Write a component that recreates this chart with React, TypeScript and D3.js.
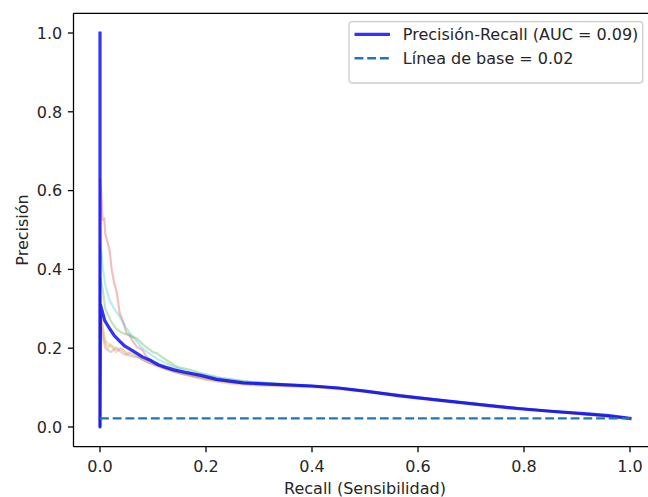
import React from "react";
import * as d3 from "d3";

const W = 648;
const H = 497;

// Mean precision-recall curve
const recallMain = [0, 0, 0.001, 0.003, 0.009, 0.018, 0.027, 0.037, 0.047, 0.062, 0.08, 0.097, 0.11, 0.123, 0.14, 0.16, 0.19, 0.22, 0.27, 0.33, 0.4, 0.45, 0.5, 0.566, 0.6, 0.66, 0.72, 0.786, 0.85, 0.913, 0.96, 1.0];
const precisionMain = [1.0, 0.0, 0.31, 0.3, 0.27, 0.25, 0.232, 0.218, 0.205, 0.193, 0.178, 0.168, 0.158, 0.152, 0.145, 0.139, 0.131, 0.121, 0.112, 0.108, 0.104, 0.099, 0.091, 0.079, 0.074, 0.065, 0.056, 0.047, 0.04, 0.034, 0.029, 0.022];

// Per-fold curves (faint)
const foldRecall1 = [0, 0, 0.002, 0.005, 0.008, 0.01, 0.014, 0.018, 0.022, 0.027, 0.032, 0.037, 0.043, 0.05, 0.055, 0.06, 0.069, 0.08, 0.09, 0.1, 0.12, 0.15, 0.2, 0.25, 0.3, 0.4, 0.5, 0.6, 0.7, 0.8, 0.9, 1.0];
const foldPrecision1 = [0, 0.63, 0.6, 0.525, 0.53, 0.49, 0.47, 0.45, 0.4, 0.365, 0.34, 0.29, 0.27, 0.238, 0.235, 0.222, 0.204, 0.195, 0.175, 0.162, 0.15, 0.138, 0.125, 0.114, 0.109, 0.104, 0.091, 0.074, 0.06, 0.046, 0.034, 0.022];
const foldRecall2 = [0, 0, 0.003, 0.005, 0.01, 0.018, 0.027, 0.037, 0.05, 0.062, 0.08, 0.1, 0.112, 0.14, 0.175, 0.22, 0.27, 0.33, 0.4, 0.5, 0.6, 0.7, 0.8, 0.9, 1.0];
const foldPrecision2 = [0, 0.46, 0.44, 0.407, 0.36, 0.322, 0.3, 0.28, 0.25, 0.229, 0.2, 0.18, 0.17, 0.152, 0.137, 0.125, 0.116, 0.11, 0.105, 0.092, 0.075, 0.061, 0.047, 0.035, 0.022];
const foldRecall3 = [0, 0, 0.005, 0.01, 0.02, 0.03, 0.04, 0.055, 0.069, 0.085, 0.1, 0.107, 0.125, 0.145, 0.17, 0.19, 0.23, 0.28, 0.35, 0.45, 0.55, 0.65, 0.75, 0.85, 0.95, 1.0];
const foldPrecision3 = [0, 0.38, 0.35, 0.3, 0.27, 0.25, 0.24, 0.232, 0.225, 0.205, 0.19, 0.187, 0.17, 0.153, 0.145, 0.137, 0.124, 0.115, 0.108, 0.1, 0.083, 0.067, 0.053, 0.041, 0.029, 0.022];
const foldRecall4 = [0, 0, 0.003, 0.008, 0.015, 0.02, 0.03, 0.04, 0.05, 0.06, 0.08, 0.1, 0.13, 0.17, 0.2, 0.25, 0.3, 0.4, 0.5, 0.6, 0.7, 0.8, 0.9, 1.0];
const foldPrecision4 = [0, 0.33, 0.28, 0.22, 0.2, 0.21, 0.19, 0.2, 0.185, 0.19, 0.172, 0.16, 0.145, 0.13, 0.12, 0.111, 0.106, 0.102, 0.09, 0.073, 0.059, 0.046, 0.033, 0.022];
const foldRecall5 = [0, 0, 0.004, 0.01, 0.02, 0.03, 0.045, 0.06, 0.075, 0.09, 0.11, 0.14, 0.18, 0.22, 0.28, 0.35, 0.45, 0.55, 0.65, 0.75, 0.85, 0.95, 1.0];
const foldPrecision5 = [0, 0.27, 0.24, 0.2, 0.19, 0.2, 0.185, 0.18, 0.175, 0.165, 0.155, 0.14, 0.128, 0.118, 0.11, 0.106, 0.099, 0.084, 0.067, 0.053, 0.04, 0.029, 0.022];
const foldRecall6 = [0, 0, 0.004, 0.01, 0.02, 0.035, 0.05, 0.07, 0.09, 0.12, 0.16, 0.2, 0.25, 0.3, 0.38, 0.45, 0.55, 0.65, 0.75, 0.85, 0.95, 1.0];
const foldPrecision6 = [0, 0.3, 0.26, 0.22, 0.205, 0.2, 0.19, 0.178, 0.163, 0.147, 0.132, 0.12, 0.109, 0.105, 0.102, 0.098, 0.082, 0.066, 0.052, 0.039, 0.028, 0.022];

const foldColors = ["#d62728", "#17becf", "#2ca02c", "#ff7f0e", "#9467bd", "#bcbd22"];
const folds = [
  [foldRecall1, foldPrecision1],
  [foldRecall2, foldPrecision2],
  [foldRecall3, foldPrecision3],
  [foldRecall4, foldPrecision4],
  [foldRecall5, foldPrecision5],
  [foldRecall6, foldPrecision6],
];

const baselineValue = 0.022;
const xTicks = [0, 0.2, 0.4, 0.6, 0.8, 1.0];
const yTicks = [0, 0.2, 0.4, 0.6, 0.8, 1.0];
const legendLabels = ["Precisión-Recall (AUC = 0.09)", "Línea de base = 0.02"];
const xLabel = "Recall (Sensibilidad)";
const yLabel = "Precisión";

export default function App() {
  const left = 73.5, right = 656.5, top = 13.3, bottom = 446.7;
  const x = d3.scaleLinear().domain([-0.05, 1.05]).range([left, right]);
  const y = d3.scaleLinear().domain([-0.05, 1.05]).range([bottom, top]);
  const line = d3
    .line<[number, number]>()
    .x((d) => x(d[0]))
    .y((d) => y(d[1]));
  const zip = (a: number[], b: number[]) => a.map((v, i) => [v, b[i]] as [number, number]);
  const font = "DejaVu Sans, sans-serif";
  const fs = 16;
  const tickLen = 5.6;
  const textColor = "#262626";

  return (
    <svg
      width={W}
      height={H}
      style={{ position: "absolute", left: 0, top: 0, display: "block", background: "#fff" }}
      fontFamily={font}
    >
      <defs>
        <clipPath id="plotclip">
          <rect x={left} y={top} width={right - left} height={bottom - top} />
        </clipPath>
      </defs>
      <g clipPath="url(#plotclip)">
        {folds.map((f, i) => (
          <path
            key={i}
            d={line(zip(f[0], f[1])) || ""}
            fill="none"
            stroke={foldColors[i]}
            strokeOpacity={0.3}
            strokeWidth={2.2}
            strokeLinejoin="round"
          />
        ))}
        <path
          d={line(zip(recallMain, precisionMain)) || ""}
          fill="none"
          stroke="blue"
          strokeOpacity={0.8}
          strokeWidth={3.2}
          strokeLinejoin="round"
          strokeLinecap="square"
        />
        <line
          x1={x(0)}
          x2={x(1)}
          y1={y(baselineValue)}
          y2={y(baselineValue)}
          stroke="#1f77b4"
          strokeWidth={2.4}
          strokeDasharray="8.88 3.84"
        />
      </g>
      {/* spines */}
      <line x1={left} x2={left} y1={top} y2={bottom} stroke="#000" strokeWidth={1.28} />
      <line x1={left} x2={right} y1={bottom} y2={bottom} stroke="#000" strokeWidth={1.28} />
      <line x1={left} x2={right} y1={top} y2={top} stroke="#000" strokeWidth={1.28} />
      <line x1={right} x2={right} y1={top} y2={bottom} stroke="#000" strokeWidth={1.28} />
      {/* x ticks */}
      {xTicks.map((t) => (
        <g key={"x" + t}>
          <line x1={x(t)} x2={x(t)} y1={bottom} y2={bottom + tickLen} stroke="#000" strokeWidth={1.28} />
          <text x={x(t)} y={472} textAnchor="middle" fontSize={fs} fill={textColor}>
            {t.toFixed(1)}
          </text>
        </g>
      ))}
      {/* y ticks */}
      {yTicks.map((t) => (
        <g key={"y" + t}>
          <line x1={left - tickLen} x2={left} y1={y(t)} y2={y(t)} stroke="#000" strokeWidth={1.28} />
          <text x={left - tickLen - 5.6} y={y(t) + 5.8} textAnchor="end" fontSize={fs} fill={textColor}>
            {t.toFixed(1)}
          </text>
        </g>
      ))}
      <text x={(left + right) / 2} y={494} textAnchor="middle" fontSize={fs} fill={textColor}>
        {xLabel}
      </text>
      <text
        transform={`translate(27.5, ${(top + bottom) / 2}) rotate(-90)`}
        textAnchor="middle"
        fontSize={fs}
        fill={textColor}
      >
        {yLabel}
      </text>
      {/* legend */}
      <g>
        <rect x={349} y={21.7} width={293.7} height={61.3} rx={3.2} fill="#fff" fillOpacity={0.8} stroke="#cccccc" strokeWidth={1.3} />
        <line x1={354.5} x2={390} y1={34.3} y2={34.3} stroke="blue" strokeOpacity={0.8} strokeWidth={3.2} />
        <text x={402.8} y={40} fontSize={fs} fill={textColor}>
          {legendLabels[0]}
        </text>
        <line x1={354.5} x2={390} y1={58.3} y2={58.3} stroke="#1f77b4" strokeWidth={2.4} strokeDasharray="8.88 3.84" />
        <text x={402.8} y={64} fontSize={fs} fill={textColor}>
          {legendLabels[1]}
        </text>
      </g>
    </svg>
  );
}
